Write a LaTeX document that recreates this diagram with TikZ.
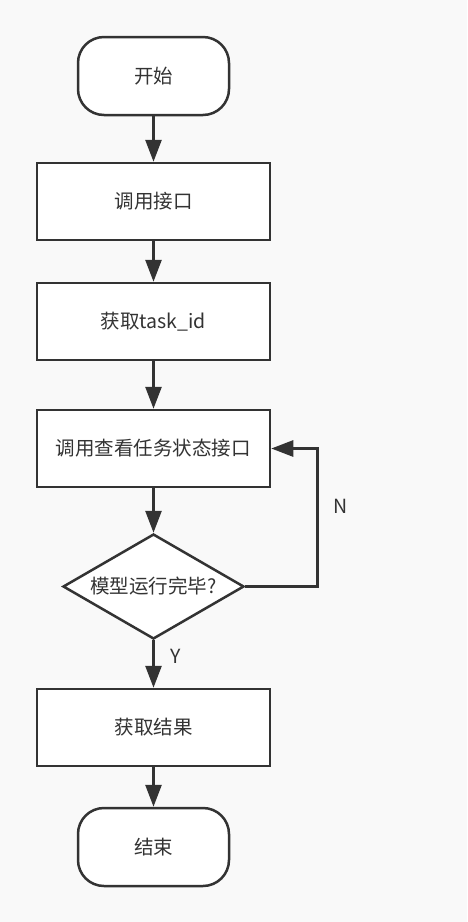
\documentclass[tikz,border=0pt]{standalone}
\usepackage{fontspec}
\setmainfont{Noto Sans CJK SC}
\usetikzlibrary{shapes.geometric,arrows.meta}
\definecolor{ink}{HTML}{333333}
\definecolor{paper}{HTML}{F9F9F9}
\tikzstyle{startstop} = [rectangle, rounded corners = 26pt, minimum width = 151pt, minimum height = 78pt, text centered, draw = ink, fill = white, line width = 2.5pt]
\tikzstyle{process} = [rectangle, minimum width = 233pt, minimum height = 77pt, text centered, draw = ink, fill = white, line width = 2.5pt]
\tikzstyle{decision} = [diamond, minimum width = 181pt, minimum height = 105pt, aspect = 1.72, inner sep = 0pt, text centered, draw = ink, fill = white, line width = 2.5pt]
\tikzstyle{arrow} = [draw = ink, line width = 2.8pt, -{Triangle[length = 22pt, width = 16pt]}]

\begin{document}
\begin{tikzpicture}[node distance = 120pt, font = \fontsize{19.5}{22}\selectfont, text = ink]

\fill[paper] (0pt,0pt) rectangle (467pt,-922pt);
\useasboundingbox (0pt,0pt) rectangle (467pt,-922pt);

\node(kaishi) [startstop] at (153.5pt,-76pt) {开始};
\node(diaoyong) [process, below of = kaishi, yshift = -5.5pt] {调用接口};
\node(taskid) [process, below of = diaoyong] {获取task\_id};
\node(chakan) [process, below of = taskid, yshift = -7pt] {调用查看任务状态接口};
\node(wanbi) [decision, below of = chakan, yshift = -18pt] {模型运行完毕?};
\node(jieguo) [process, below of = wanbi, yshift = -21pt] {获取结果};
\node(jieshu) [startstop, below of = jieguo, yshift = 0.5pt] {结束};

\draw [arrow] (kaishi) -- (diaoyong);
\draw [arrow] (diaoyong) -- (taskid);
\draw [arrow] (taskid) -- (chakan);
\draw [arrow] (chakan) -- (wanbi);
\draw [arrow] (wanbi) -- node[right, xshift = 12pt, yshift = 8pt]{Y} (jieguo);
\draw [arrow] (jieguo) -- (jieshu);
\draw [arrow] (wanbi.east) -- ++(72pt,0) |- node[pos = 0.29, right, xshift = 12pt]{N} (chakan.east);

\end{tikzpicture}
\end{document}
